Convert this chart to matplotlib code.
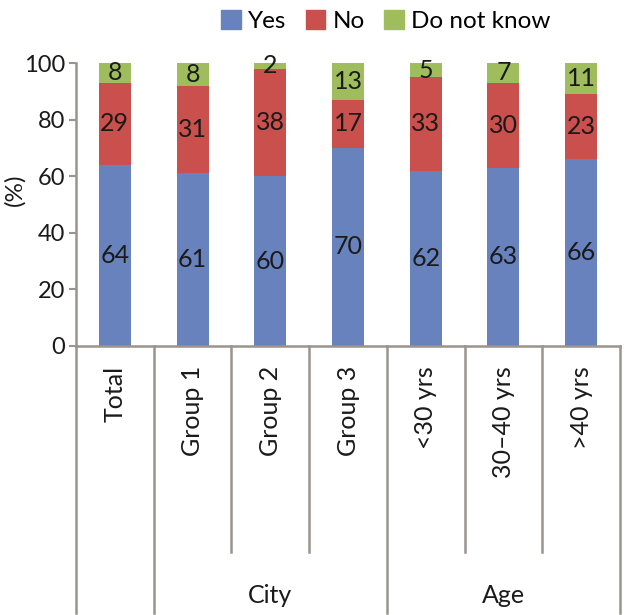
import numpy as np
import matplotlib
matplotlib.use("Agg")
import matplotlib.pyplot as plt
from matplotlib.patches import Patch

plt.rcParams['font.family'] = ['Lato', 'DejaVu Sans']

categories = ["Total", "Group 1", "Group 2", "Group 3", "<30 yrs", "30\u201340 yrs", ">40 yrs"]
yes = [64, 61, 60, 70, 62, 63, 66]
no = [29, 31, 38, 17, 33, 30, 23]
dont_know = [8, 8, 2, 13, 5, 7, 11]
groups = [("", 1), ("City", 3), ("Age", 3)]

c_yes = "#6882bd"
c_no = "#c9504c"
c_dk = "#9fbd5d"
grey = "#9a938e"
txt = "#1a1a1a"

fig = plt.figure(figsize=(6.32, 6.15), dpi=100)
ax = fig.add_axes([76 / 632, 1 - 346 / 615, 544 / 632, 283 / 615])

x = np.arange(len(categories))
w = 0.41
yes = np.array(yes)
no = np.array(no)
dont_know = np.array(dont_know)

ax.bar(x, yes, w, color=c_yes)
ax.bar(x, no, w, bottom=yes, color=c_no)
ax.bar(x, dont_know, w, bottom=yes + no, color=c_dk)

# value labels in the middle of each segment
for i in range(len(x)):
    ax.text(x[i], yes[i] / 2, str(yes[i]), ha='center', va='center', fontsize=18, color=txt)
    ax.text(x[i], yes[i] + no[i] / 2, str(no[i]), ha='center', va='center', fontsize=18, color=txt)
    top = min(yes[i] + no[i] + dont_know[i], 100)
    mid = (yes[i] + no[i] + top) / 2
    ax.text(x[i], mid, str(dont_know[i]), ha='center', va='center', fontsize=18, color=txt)

ax.set_xlim(-0.5, len(categories) - 0.5)
ax.set_ylim(0, 100)
ax.set_yticks(range(0, 101, 20))
ax.tick_params(axis='y', labelsize=17, length=5, width=1.5, color=grey, pad=3, labelcolor=txt)
ax.set_xticks([])
for s in ['top', 'right']:
    ax.spines[s].set_visible(False)
for s in ['left', 'bottom']:
    ax.spines[s].set_color(grey)
    ax.spines[s].set_linewidth(1.8)

# category labels, rotated
trans = ax.get_xaxis_transform()
for i, lab in enumerate(categories):
    ax.text(x[i], -0.07, lab, rotation=90, ha='center', va='top', fontsize=18,
            color=txt, transform=trans)

# separator lines and group labels
start = 0
long_y = -0.943
short_y = -0.728
for name, n in groups:
    ax.plot([start - 0.5, start - 0.5], [0, long_y], color=grey, lw=1.8,
            transform=trans, clip_on=False)
    for k in range(1, n):
        ax.plot([start + k - 0.5, start + k - 0.5], [0, short_y], color=grey, lw=1.8,
                transform=trans, clip_on=False)
    if name:
        ax.text(start + (n - 1) / 2, -0.883, name, ha='center', va='center',
                fontsize=18, color=txt, transform=trans)
    start += n
ax.plot([start - 0.5, start - 0.5], [0, long_y], color=grey, lw=1.8,
        transform=trans, clip_on=False)

fig.text(15 / 632, 1 - 190 / 615, "(%)", rotation=90, ha='center', va='center',
         fontsize=17.5, color=txt)

handles = [Patch(color=c_yes, label="Yes"), Patch(color=c_no, label="No"),
           Patch(color=c_dk, label="Do not know")]
fig.legend(handles=handles, loc='center', bbox_to_anchor=(386 / 632, 1 - 21 / 615),
           ncol=3, frameon=False, fontsize=17.5, handlelength=0.8, handleheight=0.8,
           handletextpad=0.3, columnspacing=0.8)

fig.savefig("out.png", dpi=100)
